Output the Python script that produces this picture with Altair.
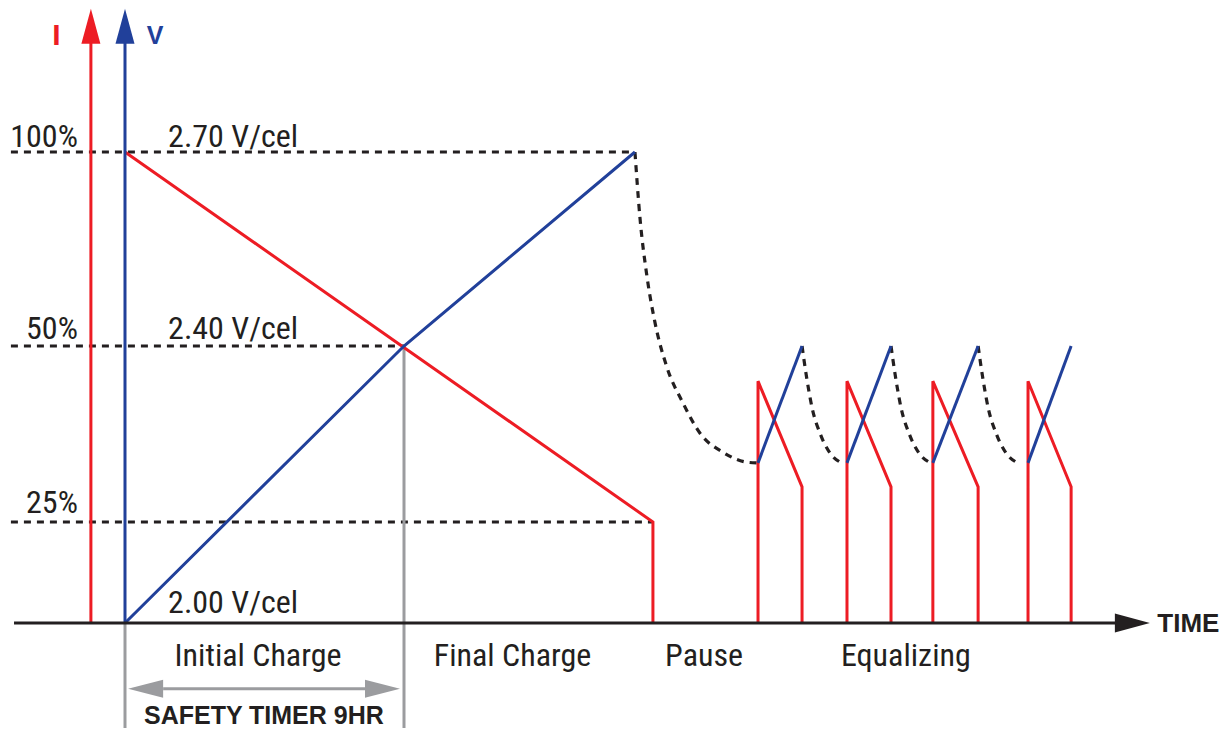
import altair as alt
import pandas as pd

RED = "#ed1c24"
BLUE = "#21409a"
BLACK = "#231f20"
GRAY = "#9b9c9f"
COND = "Liberation Sans Narrow, Roboto Condensed, DejaVu Sans Condensed, Liberation Sans, sans-serif"
BOLD = "Liberation Sans, Arial, sans-serif"

# ---- data (x: time in hours, safety timer = 9 h; y: level in % of full scale) ----
T_I_AXIS = -1.10
T_LEFT = -3.68
T_AXIS_START = -3.58
T_AXIS_END = 32.26
T_AXIS_TIP = 33.06
T_TIMER = 9.0
AXIS_TOP = 131.4
TIP_TOP = 136.9

level_lines = [100, 50, 25]
level_line_end = [16.45, 9.0, 17.03]

i_main_t = [0.0, 17.03, 17.03]
i_main_lvl = [100, 25, 0]
v_main_t = [0.0, 9.0, 16.45]
v_main_lvl = [0, 50, 100]

pause_t = [16.45, 16.61, 16.84, 17.10, 17.48, 18.00, 18.55, 19.29, 20.06, 20.39]
pause_lvl = [100, 83.2, 67.8, 55.9, 47.0, 41.9, 37.6, 34.9, 33.5, 33.4]

eq_start = [20.42, 23.29, 26.06, 29.13]
eq_end = [21.84, 24.71, 27.52, 30.52]
eq_i_lvl = [0, 45, 30, 0]
eq_v_lvl = [33.4, 50]
decay_dt = [0.0, 0.16, 0.32, 0.58, 0.90, 1.23]
decay_lvl = [50, 45.2, 41.3, 37.6, 34.8, 33.5]

LABEL_Y = -10.6
ARROW_Y = -16.3
TIMER_Y = -25.1
BOTTOM = -28.0
ARROW_T = [0.10, 8.87]
SHAFT_T = [1.23, 7.81]

pct_labels = ["100%", "50%", "25%"]
pct_y = [101.3, 51.8, 26.3]
volt_labels = ["2.70 V/cel", "2.40 V/cel", "2.00 V/cel"]
volt_y = [101.3, 51.8, 2.5]
phase_labels = ["Initial Charge", "Final Charge", "Pause", "Equalizing"]
phase_t = [4.29, 12.50, 18.68, 25.19]

# ---- build tables ----
def seg_rows(rows, sid, ts, ls):
    for k, (t, l) in enumerate(zip(ts, ls)):
        rows.append({"id": sid, "seq": k, "t": t, "lvl": l})

dash_rows = []
for k, (lv, te) in enumerate(zip(level_lines, level_line_end)):
    seg_rows(dash_rows, f"lvl{k}", [T_LEFT, te], [lv, lv])
seg_rows(dash_rows, "pause", pause_t, pause_lvl)
for k in range(3):
    seg_rows(dash_rows, f"dec{k}", [eq_end[k] + d for d in decay_dt], decay_lvl)
dash_df = pd.DataFrame(dash_rows)

red_rows = []
seg_rows(red_rows, "iaxis", [T_I_AXIS, T_I_AXIS], [0, AXIS_TOP])
seg_rows(red_rows, "imain", i_main_t, i_main_lvl)
for k, (s, e) in enumerate(zip(eq_start, eq_end)):
    seg_rows(red_rows, f"eqi{k}", [s, s, e, e], eq_i_lvl)
red_df = pd.DataFrame(red_rows)

blue_rows = []
seg_rows(blue_rows, "vaxis", [0.0, 0.0], [0, AXIS_TOP])
seg_rows(blue_rows, "vmain", v_main_t, v_main_lvl)
for k, (s, e) in enumerate(zip(eq_start, eq_end)):
    seg_rows(blue_rows, f"eqv{k}", [s, e], eq_v_lvl)
blue_df = pd.DataFrame(blue_rows)

gray_rows = []
seg_rows(gray_rows, "g0", [0.0, 0.0], [0, BOTTOM])
seg_rows(gray_rows, "g1", [T_TIMER, T_TIMER], [50, BOTTOM])
seg_rows(gray_rows, "shaft", SHAFT_T, [ARROW_Y, ARROW_Y])
gray_df = pd.DataFrame(gray_rows)

black_rows = []
seg_rows(black_rows, "xaxis", [T_AXIS_START, T_AXIS_END], [0, 0])
black_df = pd.DataFrame(black_rows)

UP = "M0,0L0.543,2L-0.543,2Z"
RIGHT = "M0,0L-2,0.543L-2,-0.543Z"
G_LEFT = "M0,0L2,0.514L2,-0.514Z"
G_RIGHT = "M0,0L-2,0.514L-2,-0.514Z"
heads_df = pd.DataFrame({
    "t": [T_I_AXIS, 0.0, T_AXIS_TIP, ARROW_T[0], ARROW_T[1]],
    "lvl": [TIP_TOP, TIP_TOP, 0, ARROW_Y, ARROW_Y],
    "shape": [UP, UP, RIGHT, G_LEFT, G_RIGHT],
    "color": [RED, BLUE, BLACK, GRAY, GRAY],
})

# ---- scales ----
PX_PER_H = 31.0
W, H = 1216, 720
xs = alt.Scale(domain=[-117 / PX_PER_H, (W - 117) / PX_PER_H], nice=False, zero=False)
ys = alt.Scale(domain=[0, 25, 50, 100], range=[615, 514, 338, 144], nice=False, zero=False)
X = alt.X("t:Q", scale=xs, axis=None)
Y = alt.Y("lvl:Q", scale=ys, axis=None)


def lines(df, color, width=3, dash=None, interp="linear"):
    kw = dict(color=color, strokeWidth=width, strokeCap="butt", interpolate=interp)
    if dash:
        kw["strokeDash"] = dash
    return alt.Chart(df).mark_line(**kw).encode(
        x=X, y=Y, detail="id:N", order="seq:Q"
    )


dashed = lines(dash_df, BLACK, 3.2, [7, 6], "monotone")
gray = lines(gray_df, GRAY, 3)
red = lines(red_df, RED, 3)
blue = lines(blue_df, BLUE, 3)
black = lines(black_df, BLACK, 3)

heads = alt.Chart(heads_df).mark_point(filled=True, opacity=1, strokeWidth=0, size=1225).encode(
    x=X, y=Y,
    shape=alt.Shape("shape:N", scale=None),
    color=alt.Color("color:N", scale=None),
)


def texts(labels, ts, ls, align, size, font, color=BLACK, weight="normal"):
    df = pd.DataFrame({"label": labels, "t": ts, "lvl": ls})
    return alt.Chart(df).mark_text(
        align=align, baseline="alphabetic", fontSize=size, font=font,
        color=color, fontWeight=weight
    ).encode(x=X, y=Y, text="label:N")


t_pct = texts(pct_labels, [-1.52] * 3, pct_y, "right", 32, COND)
t_volt = texts(volt_labels, [1.39] * 3, volt_y, "left", 32, COND)
t_phase = texts(phase_labels, phase_t, [LABEL_Y] * 4, "center", 32, COND)
t_timer = texts(["SAFETY TIMER 9HR"], [4.48], [TIMER_Y], "center", 25, BOLD, weight="bold")
t_time = texts(["TIME"], [33.30], [-2.2], "left", 26, BOLD, weight="bold")
t_i = texts(["I"], [-2.21], [127.6], "center", 30, BOLD, RED, 900)
t_v = texts(["V"], [0.97], [127.9], "center", 25, BOLD, BLUE, "bold")

chart = alt.layer(
    dashed, gray, red, blue, black, heads,
    t_pct, t_volt, t_phase, t_timer, t_time, t_i, t_v
).properties(
    width=W, height=H, autosize=alt.AutoSizeParams(type="none"), padding=0,
    background="white"
).configure_view(stroke=None)

chart.save("out.html", embed_options={"renderer": "svg", "actions": False})
